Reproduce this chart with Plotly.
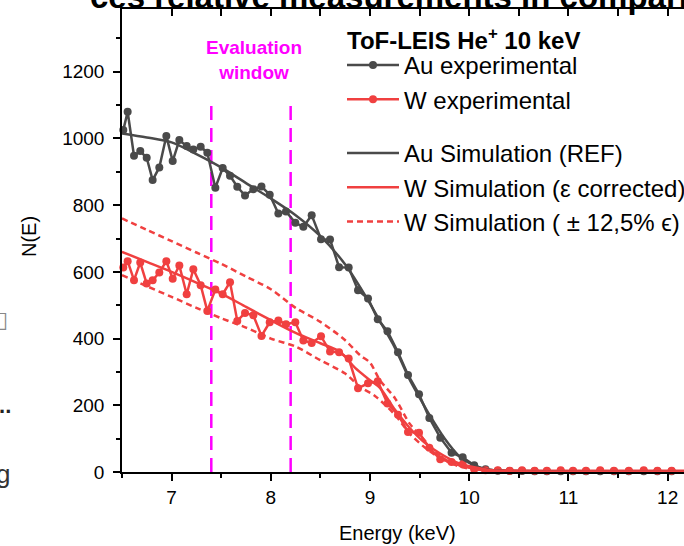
import plotly.graph_objects as go

# ---------------- data ----------------
energy_exp = [6.513, 6.557, 6.621, 6.684, 6.749, 6.809, 6.876, 6.947, 7.011, 7.078,
              7.152, 7.219, 7.293, 7.360, 7.441, 7.515, 7.589, 7.662, 7.740, 7.824,
              7.906, 7.989, 8.076, 8.153, 8.247, 8.328, 8.412, 8.506, 8.597, 8.688,
              8.785, 8.879, 8.980, 9.078, 9.176, 9.282, 9.383, 9.494, 9.598, 9.708,
              9.822, 9.934, 10.05, 10.164, 10.288, 10.408, 10.532, 10.659, 10.783, 10.922,
              11.046, 11.177, 11.32, 11.459, 11.609, 11.759, 11.897, 12.04, 12.19]

au_exp = [1025, 1080, 948, 962, 942, 875, 913, 1007, 932, 995,
          977, 967, 975, 957, 852, 911, 888, 855, 829, 848,
          856, 831, 775, 781, 747, 735, 770, 698, 697, 614,
          613, 545, 520, 458, 422, 359, 291, 233, 162, 103,
          58, 44, 20, 8, 4, 3, 3, 2, 2, 2,
          2, 2, 2, 2, 2, 2, 2, 2, 2]

w_exp = [613, 632, 575, 628, 565, 575, 598, 632, 579, 619,
         533, 608, 560, 483, 547, 533, 569, 453, 477, 470,
         408, 449, 454, 443, 449, 394, 387, 407, 361, 359,
         340, 251, 266, 272, 205, 172, 120, 118, 73, 38,
         30, 23, 8, 5, 5, 4, 5, 4, 4, 5,
         4, 4, 5, 4, 4, 5, 4, 4, 4]

energy_au_sim = [6.5, 6.75, 7.0, 7.25, 7.5, 7.75, 8.0, 8.25, 8.5, 8.75, 9.0, 9.1, 9.25,
                 9.4, 9.5, 9.6, 9.75, 9.9, 10.0, 10.1, 10.2, 10.35, 10.5, 10.8, 11.2, 12.3]
au_sim = [1015, 1003, 988, 953, 913, 866, 820, 770, 707, 622, 505, 452, 373,
          277, 223, 171, 101, 47, 27, 14, 7, 3, 1.5, 0.5, 0, 0]

energy_w_sim = [6.5, 6.75, 7.0, 7.25, 7.5, 7.75, 8.0, 8.25, 8.5, 8.7, 8.85, 9.0, 9.1,
                9.25, 9.4, 9.55, 9.75, 9.9, 10.05, 10.2, 10.4, 10.7, 11.2, 12.3]
w_sim = [660, 630, 600, 568, 535, 495, 455, 417, 386, 360, 312, 275, 252,
         187, 132, 88, 48, 26, 14, 6, 2, 0.5, 0, 0]

energy_w_hi = [6.5, 6.75, 7.0, 7.25, 7.5, 7.75, 8.0, 8.25, 8.5, 8.75, 8.9, 9.0, 9.1,
               9.25, 9.4, 9.55, 9.7, 9.85, 10.0, 10.15, 10.3, 10.6, 11.0, 12.3]
w_sim_hi = [760, 726, 692, 658, 624, 586, 548, 492, 450, 395, 350, 328, 275,
            222, 145, 95, 50, 22, 10, 4, 1.5, 0.5, 0, 0]

energy_w_lo = [6.5, 6.75, 7.0, 7.25, 7.5, 7.75, 8.0, 8.25, 8.5, 8.75, 8.9, 9.05,
               9.25, 9.4, 9.55, 9.75, 9.9, 10.05, 10.2, 10.4, 10.7, 12.3]
w_sim_lo = [590, 557, 525, 492, 461, 433, 400, 376, 335, 295, 255, 228,
            172, 115, 74, 34, 20, 10, 4, 1.5, 0.5, 0]

eval_window = [7.4, 8.2]
eval_top = 1100

x_ticks = [7, 8, 9, 10, 11, 12]
y_ticks = [0, 200, 400, 600, 800, 1000, 1200]

# ---------------- style ----------------
GREY = "#4a4a4a"
RED = "#f04040"
MAG = "#ff00ff"
FONT = "Arial, Liberation Sans, sans-serif"

W, H = 684, 546
ML, MR, MT, MB = 122, 0, 9, 74
PW, PH = W - ML - MR, H - MT - MB


def px_x(p):
    return (p - ML) / PW


def px_y(p):
    return 1 - (p - MT) / PH


fig = go.Figure()

for xe in eval_window:
    fig.add_trace(go.Scatter(x=[xe, xe], y=[0, eval_top], mode="lines",
                             line=dict(color=MAG, width=2.5, dash="14px,8px"),
                             showlegend=False, hoverinfo="skip"))

fig.add_trace(go.Scatter(x=energy_exp, y=au_exp, mode="lines+markers",
                         name="Au experimental", legend="legend",
                         line=dict(color=GREY, width=2.5),
                         marker=dict(color=GREY, size=8), cliponaxis=False))
fig.add_trace(go.Scatter(x=energy_exp, y=w_exp, mode="lines+markers",
                         name="W experimental", legend="legend",
                         line=dict(color=RED, width=2.5),
                         marker=dict(color=RED, size=8), cliponaxis=False))

fig.add_trace(go.Scatter(x=energy_au_sim, y=au_sim, mode="lines",
                         name="Au Simulation (REF)", legend="legend2",
                         line=dict(color=GREY, width=2.5, shape="spline", smoothing=0.8)))
fig.add_trace(go.Scatter(x=energy_w_sim, y=w_sim, mode="lines",
                         name="W Simulation (\u03b5 corrected)", legend="legend2",
                         line=dict(color=RED, width=2.5, shape="spline", smoothing=0.8)))
fig.add_trace(go.Scatter(x=energy_w_hi, y=w_sim_hi, mode="lines",
                         name="W Simulation ( \u00b1 12,5% \u03f5)", legend="legend2",
                         legendgroup="pm",
                         line=dict(color=RED, width=2.5, dash="6px,4px",
                                   shape="spline", smoothing=0.8)))
fig.add_trace(go.Scatter(x=energy_w_lo, y=w_sim_lo, mode="lines",
                         name="W Simulation ( \u00b1 12,5% \u03f5)", legend="legend2",
                         legendgroup="pm", showlegend=False,
                         line=dict(color=RED, width=2.5, dash="6px,4px",
                                   shape="spline", smoothing=0.8)))

# empty trace so that the mirrored top axis is drawn
fig.add_trace(go.Scatter(x=[], y=[], xaxis="x2", showlegend=False, hoverinfo="skip"))

X0, X1 = 6.5, 12.165
axis_common = dict(showline=True, linecolor="black", linewidth=1.5, showgrid=False,
                   zeroline=False, ticks="outside", ticklen=7, tickwidth=1.5,
                   tickcolor="black", tickfont=dict(family=FONT, size=19, color="black"))

legend_common = dict(xanchor="left", yanchor="top", bgcolor="rgba(0,0,0,0)",
                     borderwidth=0, font=dict(family=FONT, size=24, color="black"),
                     itemwidth=52, traceorder="normal", tracegroupgap=0)

fig.update_layout(
    width=W, height=H,
    margin=dict(l=ML, r=MR, t=MT, b=MB, autoexpand=False),
    paper_bgcolor="white", plot_bgcolor="white",
    font=dict(family=FONT, color="black"),
    xaxis=dict(range=[X0, X1], tickvals=x_ticks,
               minor=dict(dtick=0.5, tick0=6.5, ticks="outside", ticklen=4,
                          tickwidth=1.5, tickcolor="black"),
               **axis_common),
    xaxis2=dict(range=[X0, X1], overlaying="x", side="top", anchor="y", matches="x",
                showline=True, linecolor="black", linewidth=1.5, showgrid=False,
                zeroline=False, ticks="inside", ticklen=7, tickwidth=1.5,
                tickcolor="black", dtick=0.5, tick0=6.5, showticklabels=False),
    yaxis=dict(range=[0, 1388], tickvals=y_ticks,
               minor=dict(dtick=100, tick0=0, ticks="outside", ticklen=4,
                          tickwidth=1.5, tickcolor="black"),
               ticklabelstandoff=5,
               **axis_common),
    legend=dict(x=px_x(342), y=px_y(43), **legend_common),
    legend2=dict(x=px_x(342), y=px_y(131), **legend_common),
    showlegend=True,
)

# legend heading
fig.add_annotation(x=px_x(345), y=px_y(39), xref="paper", yref="paper",
                   xanchor="left", yanchor="middle", showarrow=False,
                   text="<b>ToF-LEIS He<sup>+</sup> 10 keV</b>",
                   font=dict(family=FONT, size=24, color="black"))

# axis titles
fig.add_annotation(x=px_x(397), y=px_y(533), xref="paper", yref="paper",
                   xanchor="center", yanchor="middle", showarrow=False,
                   text="Energy (keV)", font=dict(family=FONT, size=20, color="black"))
fig.add_annotation(x=px_x(29), y=px_y(237), xref="paper", yref="paper",
                   xanchor="center", yanchor="middle", showarrow=False, textangle=-90,
                   text="N(E)", font=dict(family=FONT, size=20, color="black"))

fig.add_annotation(x=7.83, y=1235, xref="x", yref="y",
                   text="<b>Evaluation<br>window</b>", showarrow=False,
                   font=dict(family=FONT, size=19, color=MAG), align="center")

# cut-off slide title above the plot
fig.add_annotation(x=px_x(88), y=px_y(17), xref="paper", yref="paper",
                   xanchor="left", yanchor="bottom", showarrow=False,
                   text="<b>ces relative measurements in comparison</b>",
                   font=dict(family=FONT, size=33, color="black"))

# cut-off fragments at the left edge of the slide
fig.add_annotation(x=px_x(10), y=px_y(319), xref="paper", yref="paper",
                   xanchor="right", yanchor="middle", showarrow=False, text="\u25af",
                   font=dict(family="DejaVu Sans", size=22, color="#888888"))
fig.add_annotation(x=px_x(13), y=px_y(405), xref="paper", yref="paper",
                   xanchor="right", yanchor="middle", showarrow=False, text="<b>...</b>",
                   font=dict(family=FONT, size=22, color="#222222"))
fig.add_annotation(x=px_x(12), y=px_y(474), xref="paper", yref="paper",
                   xanchor="right", yanchor="middle", showarrow=False, text="g",
                   font=dict(family=FONT, size=26, color="#333333"))

fig.write_html("out.html")
